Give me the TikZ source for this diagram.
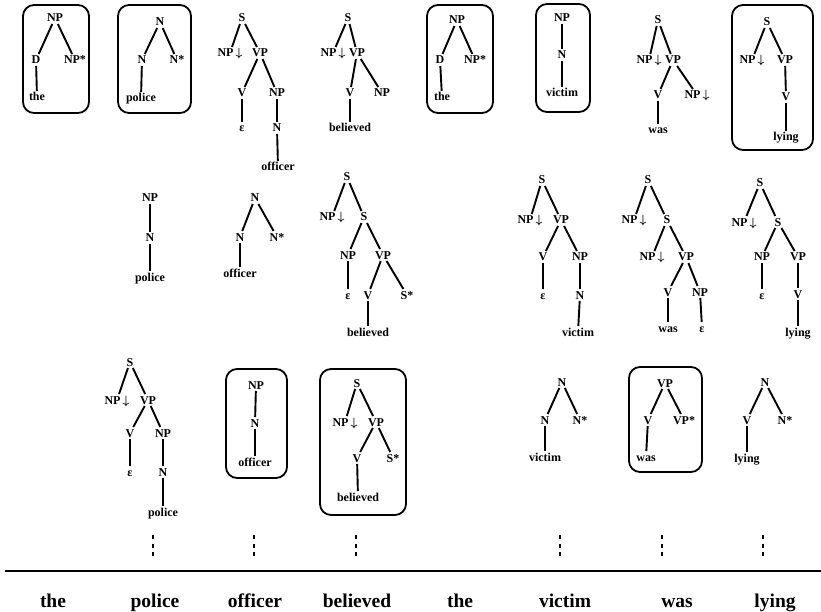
\documentclass[tikz,border=0pt]{standalone}
\usepackage{fontspec}
\setmainfont{Liberation Serif}
\begin{document}
\begin{tikzpicture}[x=1pt,y=-1pt,
  lab/.style={font=\fontsize{12}{14}\selectfont\bfseries, inner sep=1.8pt, text height=8pt, text depth=0pt},
  word/.style={font=\fontsize{19.5}{22}\selectfont\bfseries, inner sep=0pt, anchor=base},
  edge/.style={line width=1.9pt},
  tbox/.style={line width=1.8pt, rounded corners=11pt},
  dotcol/.style={line width=1.9pt, dash pattern=on 4pt off 4.5pt}]
\useasboundingbox (0,0) rectangle (821,612);
\newcommand{\dn}{\,{\boldmath$\downarrow$}}
% ---------- top row ----------
\node[lab] (a1) at (55,18) {NP};
\node[lab] (a2) at (36,60) {D};
\node[lab] (a3) at (75,60) {NP*};
\node[lab] (a4) at (37,97) {the};
\draw[edge] (a1) -- (a2); \draw[edge] (a1) -- (a3); \draw[edge] (a2) -- (a4);
\draw[tbox] (23,5) rectangle (89,113);

\node[lab] (b1) at (160,22) {N};
\node[lab] (b2) at (142,60) {N};
\node[lab] (b3) at (177,60) {N*};
\node[lab] (b4) at (141,98) {police};
\draw[edge] (b1) -- (b2); \draw[edge] (b1) -- (b3); \draw[edge] (b2) -- (b4);
\draw[tbox] (118,5) rectangle (191,113);

\node[lab] (c1) at (242,18) {S};
\node[lab] (c2) at (230,53) {NP\dn};
\node[lab] (c3) at (260,53) {VP};
\node[lab] (c4) at (242,93) {V};
\node[lab] (c5) at (277,93) {NP};
\node[lab] (c6) at (242,128) {ε};
\node[lab] (c7) at (277,128) {N};
\node[lab] (c8) at (278,167) {officer};
\draw[edge] (c1) -- (c2); \draw[edge] (c1) -- (c3); \draw[edge] (c3) -- (c4);
\draw[edge] (c3) -- (c5); \draw[edge] (c4) -- (c6); \draw[edge] (c5) -- (c7);
\draw[edge] (c7) -- (c8);

\node[lab] (d1) at (348,18) {S};
\node[lab] (d2) at (333,53) {NP\dn};
\node[lab] (d3) at (357,53) {VP};
\node[lab] (d4) at (350,93) {V};
\node[lab] (d5) at (382,93) {NP};
\node[lab] (d6) at (350,128) {believed};
\draw[edge] (d1) -- (d2); \draw[edge] (d1) -- (d3); \draw[edge] (d3) -- (d4);
\draw[edge] (d3) -- (d5); \draw[edge] (d4) -- (d6);

\node[lab] (e1) at (457,20) {NP};
\node[lab] (e2) at (440,60) {D};
\node[lab] (e3) at (475,60) {NP*};
\node[lab] (e4) at (442,97) {the};
\draw[edge] (e1) -- (e2); \draw[edge] (e1) -- (e3); \draw[edge] (e2) -- (e4);
\draw[tbox] (427,5) rectangle (493,113);

\node[lab] (f1) at (562,18) {NP};
\node[lab] (f2) at (562,55) {N};
\node[lab] (f3) at (562,93) {victim};
\draw[edge] (f1) -- (f2); \draw[edge] (f2) -- (f3);
\draw[tbox] (536,4) rectangle (590,112);

\node[lab] (g1) at (658,20) {S};
\node[lab] (g2) at (649,60) {NP\dn};
\node[lab] (g3) at (673,60) {VP};
\node[lab] (g4) at (658,95) {V};
\node[lab] (g5) at (697,95) {NP\dn};
\node[lab] (g6) at (658,130) {was};
\draw[edge] (g1) -- (g2); \draw[edge] (g1) -- (g3); \draw[edge] (g3) -- (g4);
\draw[edge] (g3) -- (g5); \draw[edge] (g4) -- (g6);

\node[lab] (h1) at (767,22) {S};
\node[lab] (h2) at (752,60) {NP\dn};
\node[lab] (h3) at (785,60) {VP};
\node[lab] (h4) at (786,97) {V};
\node[lab] (h5) at (786,137) {lying};
\draw[edge] (h1) -- (h2); \draw[edge] (h1) -- (h3); \draw[edge] (h3) -- (h4);
\draw[edge] (h4) -- (h5);
\draw[tbox] (732,5) rectangle (813,150);

% ---------- middle row ----------
\node[lab] (i1) at (150,198) {NP};
\node[lab] (i2) at (150,238) {N};
\node[lab] (i3) at (150,277) {police};
\draw[edge] (i1) -- (i2); \draw[edge] (i2) -- (i3);

\node[lab] (j1) at (255,198) {N};
\node[lab] (j2) at (240,237) {N};
\node[lab] (j3) at (277,237) {N*};
\node[lab] (j4) at (240,273) {officer};
\draw[edge] (j1) -- (j2); \draw[edge] (j1) -- (j3); \draw[edge] (j2) -- (j4);

\node[lab] (k1) at (347,177) {S};
\node[lab] (k2) at (332,217) {NP\dn};
\node[lab] (k3) at (364,217) {S};
\node[lab] (k4) at (348,255) {NP};
\node[lab] (k5) at (383,255) {VP};
\node[lab] (k6) at (348,295) {ε};
\node[lab] (k7) at (368,295) {V};
\node[lab] (k8) at (407,295) {S*};
\node[lab] (k9) at (368,332) {believed};
\draw[edge] (k1) -- (k2); \draw[edge] (k1) -- (k3); \draw[edge] (k3) -- (k4);
\draw[edge] (k3) -- (k5); \draw[edge] (k4) -- (k6); \draw[edge] (k5) -- (k7);
\draw[edge] (k5) -- (k8); \draw[edge] (k7) -- (k9);

\node[lab] (l1) at (542,180) {S};
\node[lab] (l2) at (530,220) {NP\dn};
\node[lab] (l3) at (561,220) {VP};
\node[lab] (l4) at (543,257) {V};
\node[lab] (l5) at (580,257) {NP};
\node[lab] (l6) at (543,295) {ε};
\node[lab] (l7) at (580,295) {N};
\node[lab] (l8) at (578,332) {victim};
\draw[edge] (l1) -- (l2); \draw[edge] (l1) -- (l3); \draw[edge] (l3) -- (l4);
\draw[edge] (l3) -- (l5); \draw[edge] (l4) -- (l6); \draw[edge] (l5) -- (l7);
\draw[edge] (l7) -- (l8);

\node[lab] (m1) at (648,180) {S};
\node[lab] (m2) at (634,220) {NP\dn};
\node[lab] (m3) at (667,220) {S};
\node[lab] (m4) at (652,257) {NP\dn};
\node[lab] (m5) at (686,257) {VP};
\node[lab] (m6) at (668,292) {V};
\node[lab] (m7) at (700,292) {NP};
\node[lab] (m8) at (668,328) {was};
\node[lab] (m9) at (702,328) {ε};
\draw[edge] (m1) -- (m2); \draw[edge] (m1) -- (m3); \draw[edge] (m3) -- (m4);
\draw[edge] (m3) -- (m5); \draw[edge] (m5) -- (m6); \draw[edge] (m5) -- (m7);
\draw[edge] (m6) -- (m8); \draw[edge] (m7) -- (m9);

\node[lab] (n1) at (760,183) {S};
\node[lab] (n2) at (744,222) {NP\dn};
\node[lab] (n3) at (778,222) {S};
\node[lab] (n4) at (762,257) {NP};
\node[lab] (n5) at (798,257) {VP};
\node[lab] (n6) at (762,295) {ε};
\node[lab] (n7) at (798,294) {V};
\node[lab] (n8) at (798,332) {lying};
\draw[edge] (n1) -- (n2); \draw[edge] (n1) -- (n3); \draw[edge] (n3) -- (n4);
\draw[edge] (n3) -- (n5); \draw[edge] (n4) -- (n6); \draw[edge] (n5) -- (n7);
\draw[edge] (n7) -- (n8);

% ---------- bottom row ----------
\node[lab] (o1) at (130,362) {S};
\node[lab] (o2) at (117,400) {NP\dn};
\node[lab] (o3) at (148,400) {VP};
\node[lab] (o4) at (130,433) {V};
\node[lab] (o5) at (163,433) {NP};
\node[lab] (o6) at (130,472) {ε};
\node[lab] (o7) at (163,472) {N};
\node[lab] (o8) at (163,512) {police};
\draw[edge] (o1) -- (o2); \draw[edge] (o1) -- (o3); \draw[edge] (o3) -- (o4);
\draw[edge] (o3) -- (o5); \draw[edge] (o4) -- (o6); \draw[edge] (o5) -- (o7);
\draw[edge] (o7) -- (o8);

\node[lab] (p1) at (256,385) {NP};
\node[lab] (p2) at (255,423) {N};
\node[lab] (p3) at (255,462) {officer};
\draw[edge] (p1) -- (p2); \draw[edge] (p2) -- (p3);
\draw[tbox] (226,369) rectangle (287,478);

\node[lab] (q1) at (357,383) {S};
\node[lab] (q2) at (345,422) {NP\dn};
\node[lab] (q3) at (376,422) {VP};
\node[lab] (q4) at (357,458) {V};
\node[lab] (q5) at (393,458) {S*};
\node[lab] (q6) at (358,497) {believed};
\draw[edge] (q1) -- (q2); \draw[edge] (q1) -- (q3); \draw[edge] (q3) -- (q4);
\draw[edge] (q3) -- (q5); \draw[edge] (q4) -- (q6);
\draw[tbox] (320,369) rectangle (406,515);

\node[lab] (r1) at (562,382) {N};
\node[lab] (r2) at (545,420) {N};
\node[lab] (r3) at (580,420) {N*};
\node[lab] (r4) at (545,457) {victim};
\draw[edge] (r1) -- (r2); \draw[edge] (r1) -- (r3); \draw[edge] (r2) -- (r4);

\node[lab] (s1) at (665,383) {VP};
\node[lab] (s2) at (648,420) {V};
\node[lab] (s3) at (684,420) {VP*};
\node[lab] (s4) at (646,457) {was};
\draw[edge] (s1) -- (s2); \draw[edge] (s1) -- (s3); \draw[edge] (s2) -- (s4);
\draw[tbox] (629,367) rectangle (702,472);

\node[lab] (t1) at (765,382) {N};
\node[lab] (t2) at (747,420) {V};
\node[lab] (t3) at (785,420) {N*};
\node[lab] (t4) at (747,458) {lying};
\draw[edge] (t1) -- (t2); \draw[edge] (t1) -- (t3); \draw[edge] (t2) -- (t4);

% ---------- dots, rule and words ----------
\foreach \x/\nm in {153/u1,254/u2,356/u3,560/u4,662/u5,763/u6} {
  \coordinate (\nm a) at (\x,535);
  \coordinate (\nm b) at (\x,557);
  \draw[dotcol] (\nm a) -- (\nm b);
}
\coordinate (ruleL) at (5,571);
\coordinate (ruleR) at (821,571);
\draw[line width=2pt] (ruleL) -- (ruleR);

\node[word] (w1) at (53,607) {the};
\node[word] (w2) at (155,607) {police};
\node[word] (w3) at (255,607) {officer};
\node[word] (w4) at (357,607) {believed};
\node[word] (w5) at (460,607) {the};
\node[word] (w6) at (565,607) {victim};
\node[word] (w7) at (677,607) {was};
\node[word] (w8) at (775,607) {lying};
\end{tikzpicture}
\end{document}
